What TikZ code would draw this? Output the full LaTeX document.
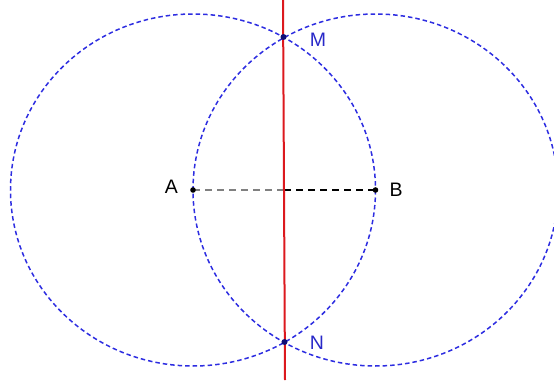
\documentclass[tikz,border=0pt]{standalone}
\usepackage{fontspec}
\setmainfont{Liberation Sans}
\definecolor{cblue}{RGB}{45,45,225}
\definecolor{lblue}{RGB}{40,40,200}
\definecolor{cred}{RGB}{220,25,30}
\definecolor{dotblue}{RGB}{15,15,120}
\begin{document}
\begin{tikzpicture}[x=1pt,y=-1pt,
  circ/.style={draw=cblue, dash pattern=on 4.5pt off 3pt, line width=1.5pt},
  redline/.style={draw=cred, line width=2pt},
  seggray/.style={draw=gray, dash pattern=on 7pt off 5pt, line width=1.2pt},
  segblack/.style={draw=black, dash pattern=on 7pt off 5pt, line width=1.8pt},
  lbl/.style={font=\fontsize{19.5}{19.5}\selectfont, inner sep=0pt},
  bdot/.style={fill=black, draw=none},
  mdot/.style={fill=dotblue, draw=none}]
\useasboundingbox (0,0) rectangle (554,385);
\begin{scope}
\clip (0,0) rectangle (554,385);
\coordinate (A) at (193,190);
\coordinate (B) at (375.5,190);
\coordinate (M) at (283.5,37);
\coordinate (N) at (284.5,342);
\coordinate (mid) at (284,190);
\coordinate (top) at (283,0);
\coordinate (bot) at (285,380);
\draw[circ] (A) ellipse [x radius=182.5, y radius=176];
\draw[circ] (B) ellipse [x radius=182.5, y radius=176];
\draw[seggray] (A) -- (mid);
\draw[segblack] (mid) -- (B);
\draw[redline] (top) -- (bot);
\fill[bdot] (A) circle (2.8);
\fill[bdot] (B) circle (2.8);
\fill[mdot] (M) circle (3);
\fill[mdot] (N) circle (3);
\node[lbl, text=black] (lA) at (171.5,187) {A};
\node[lbl, text=black] (lB) at (396,189.5) {B};
\node[lbl, text=lblue] (lM) at (318,39.5) {M};
\node[lbl, text=lblue] (lN) at (317,342.5) {N};
\end{scope}
\end{tikzpicture}
\end{document}
